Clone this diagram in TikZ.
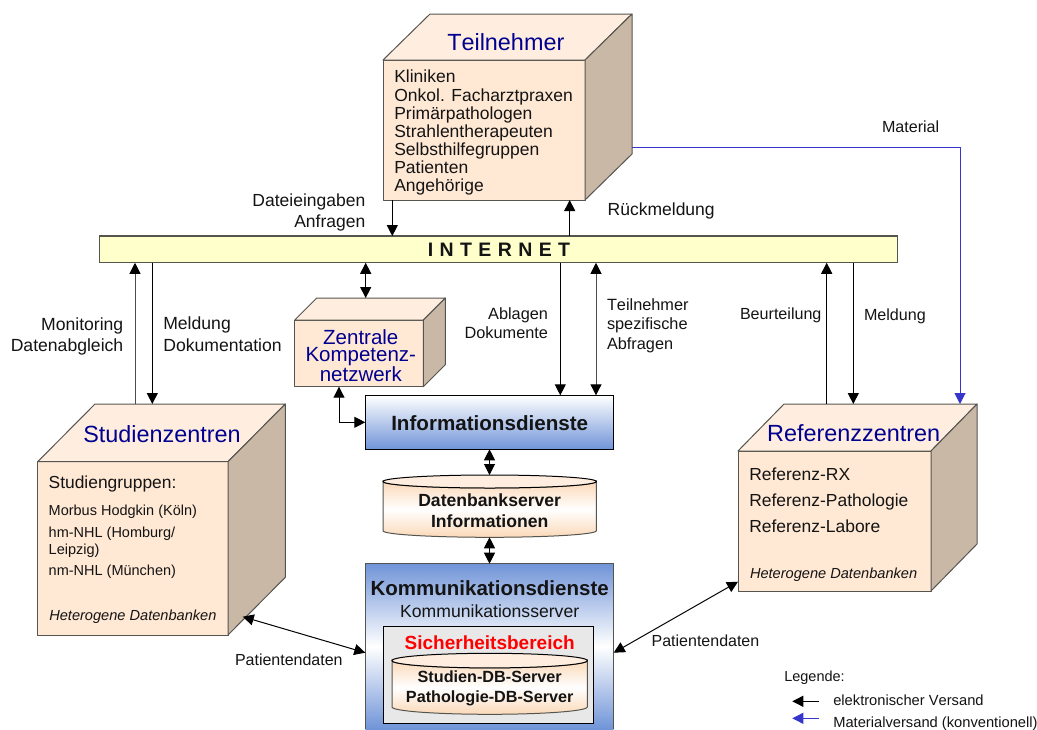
\documentclass[tikz,border=0pt]{standalone}
\usepackage{fontspec}
\setmainfont[Kerning=Off]{Liberation Sans}
\usetikzlibrary{arrows.meta,calc}
\definecolor{cubeface}{HTML}{FFE8D4}
\definecolor{cubetop}{HTML}{FFEEDF}
\definecolor{cubeside}{HTML}{C9B8A6}
\definecolor{edgegray}{HTML}{555550}
\definecolor{titlenavy}{HTML}{000090}
\definecolor{txtblack}{HTML}{141414}
\definecolor{dienstblue}{HTML}{7094D8}
\definecolor{netyellow}{HTML}{FFFFCC}
\definecolor{matblue}{HTML}{3636CC}
\definecolor{dbpeach}{HTML}{FBD9B8}
\definecolor{safegray}{HTML}{E8E8E8}
\tikzset{
  txt/.style={inner sep=0pt,outer sep=0pt,text=txtblack,font=\fontsize{#1}{#1}\selectfont},
  txtb/.style={inner sep=0pt,outer sep=0pt,text=txtblack,font=\fontsize{#1}{#1}\selectfont\bfseries},
  txti/.style={inner sep=0pt,outer sep=0pt,text=txtblack,font=\fontsize{#1}{#1}\selectfont\itshape},
  ttl/.style={inner sep=0pt,outer sep=0pt,text=titlenavy,font=\fontsize{#1}{#1}\selectfont},
  cubeedge/.style={draw=edgegray,line width=1pt,line join=round},
  cubefront/.style={cubeedge,fill=cubeface,inner sep=0pt,outer sep=0pt},
  plainbox/.style={inner sep=0pt,outer sep=0pt},
  arr/.style={line width=1pt,draw=black,-{Triangle[length=11pt,width=11pt,color=black]}},
  darr/.style={line width=1pt,draw=black,{Triangle[length=11pt,width=11pt,color=black]}-{Triangle[length=11pt,width=11pt,color=black]}},
  bluearr/.style={line width=1pt,draw=matblue,-{Triangle[length=11pt,width=11pt,color=matblue]}},
}
\newcommand{\mycube}[7]{%
  \node[cubefront,minimum width={(#4-#2)*1pt},minimum height={(#5-#3)*1pt}] (#1) at ({(#2+#4)/2},{(#3+#5)/2}) {};
  \path (#1.north west) ++(#6,-#7) coordinate (#1b);
  \path (#1.north east) ++(#6,-#7) coordinate (#1c);
  \path (#1.south east) ++(#6,-#7) coordinate (#1d);
  \draw[cubeedge,fill=cubetop] (#1.north west) -- (#1b) -- (#1c) -- (#1.north east) -- cycle;
  \draw[cubeedge,fill=cubeside] (#1.north east) -- (#1c) -- (#1d) -- (#1.south east) -- cycle;
}
% cylinder: name, x1, ytop, x2, ybottom, ry
\newcommand{\mydb}[6]{%
  \node[plainbox,minimum width={(#4-#2)*1pt},minimum height={(#5-#3)*1pt}] (#1) at ({(#2+#4)/2},{(#3+#5)/2}) {};
  \shade[top color=dbpeach,bottom color=dbpeach,middle color=white,draw=edgegray,line width=1pt]
     (#2,#3+#6) -- (#2,#5-#6) arc[start angle=180,end angle=360,x radius={(#4-#2)/2},y radius=-#6]
     -- (#4,#3+#6) arc[start angle=0,end angle=-180,x radius={(#4-#2)/2},y radius=-#6] -- cycle;
  \draw[draw=black,line width=1pt,fill=cubetop] ({(#2+#4)/2},#3+#6) ellipse[x radius={(#4-#2)/2},y radius=#6];
}
\begin{document}
\begin{tikzpicture}[x=1pt,y=-1pt]
\useasboundingbox[fill=white] (0,0) rectangle (1037,729);

% Internet bar
\node[draw=edgegray,line width=1.3pt,fill=netyellow,inner sep=0pt,outer sep=0pt,minimum width=798.2pt,minimum height=26.7pt] (net) at (498.6,249.4) {};
\node[txtb=19.5,anchor=base] (nettxt) at (499,256.5) {\spaceskip=6.4pt I N T E R N E T};

% Cubes
\mycube{teil}{383}{60}{585}{200}{47}{46}
\mycube{stud}{37.7}{461.7}{228}{635}{57.3}{57.7}
\mycube{refz}{738}{451}{931}{591}{46}{47}
\mycube{zent}{294.7}{320}{423.3}{386.7}{22}{22}

% Services
\node[plainbox,draw=black,line width=1pt,top color=white,bottom color=dienstblue,minimum width=248.4pt,minimum height=54pt] (info) at (489.5,422.3) {};
\node[plainbox,top color=dienstblue,bottom color=dienstblue,middle color=white,minimum width=248.4pt,minimum height=165.3pt] (komm) at (489.5,646.35) {};
\draw[line width=1pt,draw=edgegray] (komm.south west) -- (komm.north west) -- (komm.north east) -- (komm.south east);
\node[plainbox,draw=black,line width=1pt,fill=safegray,minimum width=210.7pt,minimum height=97pt] (safe) at (488.35,675.2) {};
\mydb{dba}{383}{475}{596.3}{537.3}{6.5}
\mydb{dbb}{392}{653.3}{587.3}{714.3}{7.3}

% Titles and lists
\node[ttl=23.4,anchor=base] (tT) at (505.8,50.7) {Teilnehmer};
\node[txt=17.5,anchor=base west] (l1) at (394.3,82.3) {Kliniken};
\node[txt=17.5,anchor=base west] (l2) at (394.3,101) {Onkol. Facharztpraxen};
\node[txt=17.5,anchor=base west] (l3) at (394.3,119) {Primärpathologen};
\node[txt=17.5,anchor=base west] (l4) at (394.3,137) {Strahlentherapeuten};
\node[txt=17.5,anchor=base west] (l5) at (394.3,155) {Selbsthilfegruppen};
\node[txt=17.5,anchor=base west] (l6) at (394.3,173) {Patienten};
\node[txt=17.5,anchor=base west] (l7) at (394.3,191.7) {Angehörige};

\node[ttl=23.4,anchor=base] (tS) at (162,442) {Studienzentren};
\node[txt=17.4,anchor=base west] (s1) at (48.7,488) {Studiengruppen:};
\node[txt=14.5,anchor=base west] (s2) at (48.7,515) {Morbus Hodgkin (Köln)};
\node[txt=14.5,anchor=base west] (s3) at (48.7,537.3) {hm-NHL (Homburg/};
\node[txt=14.5,anchor=base west] (s4) at (48.7,554) {Leipzig)};
\node[txt=14.5,anchor=base west] (s5) at (48.7,575) {nm-NHL (München)};
\node[txti=14.6,anchor=base west] (s6) at (49.3,620) {Heterogene Datenbanken};

\node[ttl=23.4,anchor=base] (tR) at (853.7,441.7) {Referenzzentren};
\node[txt=17.45,anchor=base west] (r1) at (749.3,480.7) {Referenz-RX};
\node[txt=17.45,anchor=base west] (r2) at (749.3,506.7) {Referenz-Pathologie};
\node[txt=17.45,anchor=base west] (r3) at (749.3,532.7) {Referenz-Labore};
\node[txti=14.6,anchor=base west] (r4) at (750,578.7) {Heterogene Datenbanken};

\node[inner sep=0pt,outer sep=0pt,text=titlenavy,align=center,font=\fontsize{20.5}{17.5}\selectfont,anchor=base] (zt) at (360.8,381.7) {Zentrale\\Kompetenz-\\netzwerk};

\node[txtb=20.6,anchor=base] (iT) at (489.7,430) {Informationsdienste};
\node[txtb=17.6,anchor=base] (d1) at (489.7,506) {Datenbankserver};
\node[txtb=17.6,anchor=base] (d2) at (489.7,527) {Informationen};
\node[txtb=20.5,anchor=base] (k1) at (489.7,595.7) {Kommunikationsdienste};
\node[txt=17.6,anchor=base] (k2) at (489.7,617.3) {Kommunikationsserver};
\node[txtb=19,anchor=base,text=red] (k3) at (489.7,649.3) {Sicherheitsbereich};
\node[txtb=16.2,anchor=base] (k4) at (489.7,682.7) {Studien-DB-Server};
\node[txtb=16.2,anchor=base] (k5) at (489.7,702.7) {Pathologie-DB-Server};

% Connector labels
\node[txt=17.5,anchor=base east] (a1) at (365.3,206.7) {Dateieingaben};
\node[txt=17.5,anchor=base east] (a2) at (365.3,227.3) {Anfragen};
\node[txt=17.5,anchor=base west] (a3) at (607.7,215) {Rückmeldung};
\node[txt=16.3,anchor=base west] (a4) at (607,310) {Teilnehmer};
\node[txt=16.3,anchor=base west] (a5) at (607,329) {spezifische};
\node[txt=16.3,anchor=base west] (a6) at (607,349) {Abfragen};
\node[txt=16.3,anchor=base east] (a7) at (548,319) {Ablagen};
\node[txt=16.3,anchor=base east] (a8) at (548,338) {Dokumente};
\node[txt=17.6,anchor=base east] (a9) at (123.3,330) {Monitoring};
\node[txt=17.6,anchor=base east] (a10) at (123.3,351) {Datenabgleich};
\node[txt=17.6,anchor=base west] (a11) at (163.3,329) {Meldung};
\node[txt=17.6,anchor=base west] (a12) at (163.3,351) {Dokumentation};
\node[txt=16.1,anchor=base west] (a13) at (740,319.3) {Beurteilung};
\node[txt=16.1,anchor=base west] (a14) at (864,320) {Meldung};
\node[txt=16.1,anchor=base west] (a15) at (882,132.7) {Material};
\node[txt=16,anchor=base west] (a16) at (235,665) {Patientendaten};
\node[txt=16,anchor=base east] (a17) at (759.3,646.7) {Patientendaten};

% Connectors
\draw[arr] (teil.south -| 392.3,0) -- (net.north -| 392.3,0);
\draw[arr] (net.north -| 569.7,0) -- (teil.south -| 569.7,0);
\draw[arr,draw=black!70] (studb -| 135,0) -- (net.south -| 135,0);
\draw[arr] (net.south -| 152.3,0) -- (studb -| 152.3,0);
\draw[darr] (net.south -| 365.7,0) -- (zentb -| 365.7,0);
\draw[darr] (zent.south -| 339,0) |- (info.west);
\draw[arr] (net.south -| 560.3,0) -- (info.north -| 560.3,0);
\draw[darr,draw=black!70] (net.south -| 596,0) -- (info.north -| 596,0);
\draw[arr] (refzb -| 826.7,0) -- (net.south -| 826.7,0);
\draw[arr] (net.south -| 853.3,0) -- (refzb -| 853.3,0);
\draw[darr] (info.south) -- (dba.north -| info.south);
\draw[darr] (dba.south -| komm.north) -- (komm.north);
\coordinate (sp) at (242.7,616.7);
\coordinate (rp) at (738,581.7);
\draw[darr] (sp) -- (komm.west |- 0,652.7);
\draw[darr] (komm.east |- 0,652.7) -- (rp);
\draw[bluearr] (teilc |- 0,147.3) -| (refzb -| 960,0);

% Legend
\node[txt=14.5,anchor=base west] (lg) at (784.3,681.7) {Legende:};
\node[txt=14.7,anchor=base west] (lg1) at (833.3,705) {elektronischer Versand};
\node[txt=14.7,anchor=base west] (lg2) at (833.3,727.7) {Materialversand (konventionell)};
\coordinate (lga) at (818.7,701.3);
\coordinate (lgb) at (792.3,701.3);
\coordinate (lgc) at (818.7,718.3);
\coordinate (lgd) at (792.3,718.3);
\draw[arr] (lga) -- (lgb);
\draw[bluearr] (lgc) -- (lgd);
\end{tikzpicture}
\end{document}
